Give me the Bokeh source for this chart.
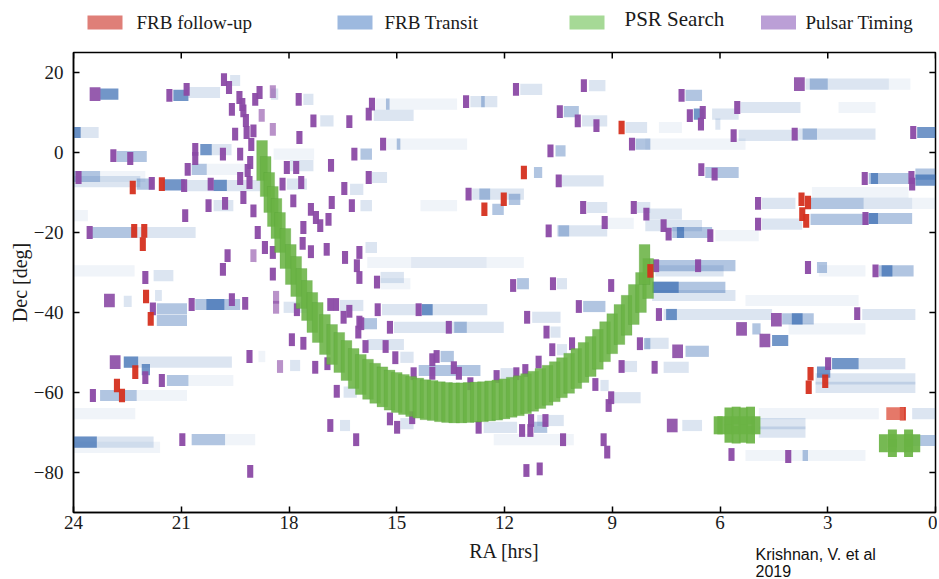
from bokeh.plotting import figure
from bokeh.models import Range1d, FixedTicker
from bokeh.layouts import column
from bokeh.embed import file_html
from bokeh.resources import INLINE
from bokeh.core.properties import value

# ---------------- data ----------------
legend_labels = ["FRB follow-up", "FRB Transit", "PSR Search", "Pulsar Timing"]
legend_colors = ["#df7f78", "#9db9df", "#a6d996", "#bb9fd6"]

x_ticks = [24, 21, 18, 15, 12, 9, 6, 3, 0]
y_ticks = [20, 0, -20, -40, -60, -80]
y_tick_labels = ["20", "0", "\u221220", "\u221240", "\u221260", "\u221280"]

x_title = "RA [hrs]"
y_title = "Dec [deg]"
credit_lines = ["Krishnan, V. et al", "2019"]

# PSR Search arc (RA hrs, Dec deg)
green_ra = [18.75, 18.65, 18.55, 18.45, 18.35, 18.25, 18.1, 17.95, 17.8, 17.65, 17.5, 17.35,
            17.2, 17.0, 16.8, 16.6, 16.4, 16.2, 16.0, 15.8, 15.6, 15.4, 15.2, 15.0, 14.8,
            14.6, 14.4, 14.2, 14.0, 13.8, 13.6, 13.4, 13.2, 13.0, 12.8, 12.6, 12.4, 12.2,
            12.0, 11.8, 11.6, 11.4, 11.2, 11.0, 10.8, 10.6, 10.4, 10.2, 10.0, 9.8, 9.6,
            9.4, 9.2, 9.0, 8.8, 8.6, 8.4, 8.2, 8.0, 8.1]
green_dec = [-2, -6, -10, -13.5, -16.5, -20, -24, -28, -31, -34, -37, -40,
             -42.5, -45.5, -48, -50, -52, -54, -55.5, -56.7, -57.7, -58.6, -59.4, -60, -60.5,
             -61, -61.4, -61.8, -62, -62.3, -62.5, -62.6, -62.6, -62.5, -62.4, -62.3, -62.1, -61.9,
             -61.6, -61.2, -60.8, -60.3, -59.7, -59, -58.2, -57.3, -56.3, -55.2, -54, -52.5, -51,
             -49.2, -47.3, -45.3, -43, -40.7, -38, -35, -31.5, -28]

# PSR Search small clusters
cluster_ra = [6.05, 5.95, 5.75, 5.75, 5.75, 5.55, 5.55, 5.55, 5.35, 5.35, 5.35, 5.15, 5.15, 5.15, 5.0,
              1.45, 1.2, 1.2, 1.2, 0.95, 0.75, 0.75, 0.75, 0.55]
cluster_dec = [-68.2, -68.2, -66.0, -68.2, -70.3, -65.8, -68.2, -70.5, -66.0, -68.2, -70.3, -65.8, -68.2, -70.5, -68.2,
               -72.7, -71.5, -72.7, -73.9, -72.7, -71.5, -72.7, -73.9, -72.7]

# Pulsar Timing
purple_ra = [21.33, 20.85, 19.81, 19.67, 19.59, 19.38, 19.27, 18.94, 18.82, 17.73, 17.32, 16.32,
             19.50, 19.18, 18.99, 17.71, 22.89, 22.42, 20.61, 20.61, 19.84, 19.36, 20.82, 23.86,
             21.82, 20.92, 20.18, 19.36, 19.08, 19.10, 18.18, 18.06, 17.80, 17.66, 16.83, 16.18,
             16.46, 20.24, 19.78, 19.27, 18.99, 17.88, 17.39, 20.89, 16.81, 16.25, 17.25, 17.13,
             16.90, 23.55, 18.87, 17.60, 18.67, 18.45, 17.62, 17.39, 16.95, 16.44, 16.04, 19.71,
             19.84, 22.00, 16.11, 16.04, 18.45, 19.2, 19.05, 19.3, 19.15,
             11.68, 9.79, 15.69, 15.78, 13.07, 10.46, 9.96, 9.44, 15.38, 10.72, 8.45, 15.78,
             10.49, 13.0, 9.81, 8.40, 8.05, 9.21, 10.77,
             7.07, 6.84, 6.48, 6.53, 5.52, 5.62, 3.92, 0.62, 6.52, 6.15, 1.97, 0.67, 0.65,
             4.94, 4.94, 1.95, 7.57, 7.43, 6.27, 6.61, 3.55, 1.67, 7.78,
             21.79, 20.71, 19.59, 19.22, 17.78, 16.85, 16.69, 16.32, 16.48, 16.04, 16.07, 17.92,
             17.6, 22.0, 21.54, 19.1, 17.27, 16.93, 23.46, 16.67, 16.85, 16.13, 20.97, 19.08,
             15.55, 11.76, 10.65, 9.03, 15.53, 14.39, 9.93, 15.99, 15.19, 13.55, 11.37, 10.83,
             15.87, 15.31, 15.04, 14.01, 13.89, 10.67, 10.12, 8.23, 14.53, 14.01, 13.41, 13.27,
             12.95, 12.22, 11.67, 11.42, 11.05, 9.47, 8.74, 15.19, 14.99, 14.57, 12.72, 11.51,
             11.26, 11.28, 10.86, 10.37, 9.24, 9.14, 9.1, 9.03, 11.39, 11.02,
             7.7, 2.18, 7.82, 2.99, 5.68, 4.1]
purple_dec = [14.3, 15.8, 18.2, 16.25, 10.8, 13.75, 10.4, 13.3, 15.0, 13.3, 7.9, 7.7,
              4.6, 5.0, 5.4, 3.75, -0.8, -1.5, 0.8, -1.5, -0.4, -0.4, -4.2, -6.25,
              -7.7, -8.3, -7.9, -6.5, -2.5, -7.5, -7.9, -3.75, -3.75, -7.5, -3.2, -0.4,
              -9.0, -13.3, -12.7, -11.25, -14.6, -12.1, -14.2, -15.8, -12.5, -13.3, -16.25, -18.3,
              -16.7, -20.0, -20.0, -18.75, -23.75, -25.0, -22.7, -24.8, -24.2, -26.25, -25.0, -25.8,
              -29.2, -31.25, -28.3, -31.25, -30.4, 8.0, 2.0, 12.0, -4.5,
              15.8, 16.7, 12.1, 9.6, 12.7, 10.2, 7.9, 6.7, 2.1, 0.4, 2.1, -6.25,
              -7.1, -10.4, -13.75, -13.75, -15.4, -17.5, -19.6,
              14.3, 9.2, 10.0, 7.1, 11.25, 4.2, 4.6, 5.0, -4.3, -5.4, -6.5, -6.25, -7.9,
              -12.7, -17.9, -16.5, -18.3, -20.4, -20.8, -28.3, -28.75, -29.6, -28.3,
              -39.1, -38.0, -36.8, -37.7, -39.3, -38.0, -38.0, -39.7, -41.2, -42.4, -44.9, -46.8,
              -47.7, -56.3, -57.0, -51.0, -53.7, -52.8, -60.75, -59.7, -68.25, -71.8, -71.8, -79.7,
              -32.4, -33.25, -32.8, -33.25, -39.3, -39.3, -38.5, -42.8, -43.7, -43.7, -41.2, -44.9,
              -48.5, -48.5, -51.3, -51.8, -51.0, -49.3, -47.8, -47.8, -55.3, -55.2, -53.8, -55.2,
              -57.8, -56.0, -55.3, -54.5, -52.4, -58.0, -53.5, -66.6, -68.7, -66.3, -68.7, -69.5,
              -67.0, -69.5, -67.0, -71.8, -71.8, -74.9, -63.25, -61.3, -79.5, -79.1,
              -40.5, -40.3, -53.7, -52.8, -75.5, -76.0]
purple_light_ra = [18.76, 18.45, 18.45, 18.99, 18.36, 18.36, 18.25]
purple_light_dec = [9.3, 15.2, 5.8, -25.8, -36.2, -38.7, -53.5]
purple_big_ra = [23.40, 23.0, 22.84, 5.4, 4.43, 4.75, 7.18, 7.33, 3.79]
purple_big_dec = [14.6, -37.0, -52.4, -44.1, -41.8, -47.0, -49.7, -68.25, 17.1]

# FRB follow-up
red_ra = [22.35, 21.54, 22.31, 22.03, 22.07, 8.74, 11.46, 12.02, 12.56, 3.73, 3.55, 3.71, 3.6,
          7.94, 21.98, 21.85, 22.28, 22.79, 22.65, 3.48, 3.53, 3.07, 0.91]
red_dec = [-8.75, -7.9, -19.6, -19.6, -22.9, 6.25, -5.0, -11.7, -14.2, -11.7, -12.5, -15.4, -17.1,
           -29.6, -36.0, -41.6, -54.9, -58.25, -60.75, -55.3, -58.7, -57.2, -65.3]
red_wide_ra = [1.12]
red_wide_dec = [-65.3]

# FRB Transit strips: start RA, end RA, Dec, shade level (0 faint .. 3 dark)
blue_start = [23.26, 21.22, 20.8, 19.64, 18.5, 24.0, 24.0, 20.47, 20.15, 22.8, 20.71, 20.29, 24.0, 23.26,
              22.24, 21.5, 20.1, 24.0, 20.85, 23.49, 22.24, 20.1, 24.0, 24.0, 21.77, 17.97, 18.06, 17.13,
              17.6, 16.3, 18.43,
              15.59, 15.3, 15.64, 12.95, 12.65, 11.56, 9.65, 10.35, 9.84, 8.63, 15.27, 15.0, 8.35, 16.01,
              10.58, 11.18, 15.69, 10.4, 12.9, 12.7, 11.88, 12.34, 14.34, 16.01, 9.7, 8.31, 9.14, 10.54,
              10.5, 15.87, 15.82, 14.6, 15.45,
              3.62, 3.5, 1.3, 6.96, 5.43, 2.7, 6.73, 6.22, 6.13, 7.7, 5.48, 3.81, 3.7, 0.51, 8.08, 6.41,
              1.86, 1.8, 0.56, 0.56, 3.44, 4.83, 3.48, 2.0, 0.65, 1.86, 1.86, 3.48, 4.83, 8.08, 7.33,
              7.2, 6.13, 7.7, 7.8, 3.3, 1.58, 1.5, 3.25, 8.08,
              22.6, 21.73, 21.68, 21.68, 20.61, 20.3, 22.6, 22.6, 22.1, 21.4, 20.8, 23.26, 22.24, 24.0,
              24.0, 24.0, 24.0, 20.71, 19.78, 18.15, 16.58, 17.97, 16.48, 16.58, 18.85,
              15.45, 11.65, 10.54, 15.41, 14.3, 15.08, 13.4, 15.92, 9.81, 11.23, 10.72, 15.82, 14.9,
              13.78, 10.54, 8.12, 14.39, 12.11, 8.68, 8.96, 14.9, 11.09, 12.58, 12.3, 11.18, 9.33,
              7.89, 7.89, 7.89, 5.29, 7.57, 7.5, 4.27, 4.0, 2.04, 5.1, 4.09, 4.55, 8.08, 6.96, 7.57,
              2.88, 2.14, 3.3, 3.34, 3.34, 4.92, 4.92, 4.92, 0.65, 0.65, 5.29, 3.7, 7.05]
blue_end = [22.75, 20.80, 19.92, 19.36, 18.3, 23.3, 23.8, 20.15, 19.6, 21.96, 20.29, 19.2, 23.26, 22.0,
            21.77, 20.9, 19.73, 22.14, 18.8, 22.24, 20.6, 19.55, 23.6, 22.3, 21.22, 17.32, 17.5, 16.76,
            17.32, 15.93, 17.3,
            13.32, 15.2, 14.53, 12.2, 12.55, 10.95, 9.19, 9.93, 9.14, 8.03, 13.04, 14.9, 7.94, 15.69,
            10.3, 10.95, 15.27, 9.24, 11.46, 12.4, 11.56, 12.02, 13.32, 15.69, 9.14, 7.94, 8.4, 9.14,
            10.2, 15.55, 11.46, 12.5, 14.8,
            1.3, 3.0, 0.7, 6.5, 3.76, 1.67, 6.45, 5.48, 5.99, 7.06, 3.81, 1.67, 3.3, 0.0, 5.29, 5.48,
            0.74, 1.6, 0.0, 0.0, 0.75, 3.9, 2.0, 0.65, 0.0, 0.65, 1.6, 1.86, 3.71, 7.06, 6.22,
            7.0, 4.92, 5.57, 5.9, 3.02, 0.61, 1.2, 1.95, 6.5,
            22.38, 21.54, 20.84, 20.84, 19.36, 19.8, 19.59, 22.2, 21.87, 20.8, 19.55, 22.24, 20.84, 22.28,
            23.35, 21.77, 21.59, 19.78, 18.94, 17.5, 15.93, 17.69, 16.11, 16.3, 18.66,
            14.62, 11.32, 10.26, 12.48, 14.0, 12.02, 13.05, 15.55, 9.19, 10.44, 10.44, 14.8, 14.53,
            13.41, 10.26, 7.94, 12.67, 11.65, 8.31, 8.21, 14.53, 10.35, 11.65, 10.07, 10.81, 9.1,
            5.85, 7.15, 5.57, 2.14, 4.55, 7.2, 3.39, 3.7, 0.56, 4.87, 1.95, 4.1, 7.43, 6.31, 6.87,
            2.14, 0.84, 2.93, 0.56, 0.56, 1.58, 3.62, 3.62, 0.0, 0.0, 1.95, 3.55, 6.5]
blue_dec = [14.6, 14.3, 15.0, 18.0, 14.6, 5.0, 5.0, 0.7, 0.7, -1.0, -4.2, -4.2, -6.0, -6.0,
            -7.9, -8.1, -8.2, -7.3, -8.3, -20.0, -20.0, -13.3, -15.8, -29.6, -30.8, -3.3, -7.9, 7.9,
            13.3, -9.2, -0.4,
            12.1, 12.1, 9.3, 12.7, 12.7, 15.8, 16.7, 10.2, 7.9, 6.25, 2.1, 2.1, 2.1, -0.4,
            0.4, -5.0, -6.25, -7.1, -10.4, -10.4, -11.7, -14.2, -13.3, -13.3, -13.75, -13.75, -17.7, -19.6,
            -19.6, -23.75, -27.5, -27.5, -31.25,
            17.1, 17.1, 17.1, 14.3, 11.25, 11.25, 9.6, 9.6, 7.1, 6.25, 4.3, 4.6, 4.6, 5.0, 2.1, -5.0,
            -6.5, -6.5, -5.4, -6.9, -10.0, -12.7, -12.7, -12.7, -12.7, -16.5, -16.5, -16.7, -17.9, -15.4, -20.0,
            -20.0, -20.8, -28.3, -29.6, -28.75, -29.6, -29.6, -29.6, -18.3,
            -37.2, -35.75, -39.1, -42.0, -38.0, -38.0, -52.4, -52.4, -54.3, -57.0, -57.0, -60.75, -60.75, -65.3,
            -72.4, -72.4, -73.7, -71.8, -71.8, -38.7, -38.25, -53.25, -59.9, -68.25, -51.0,
            -32.8, -32.8, -32.8, -39.3, -39.3, -43.7, -43.7, -42.8, -38.5, -41.2, -44.9, -48.0, -51.2,
            -51.0, -49.3, -47.8, -54.5, -55.3, -53.5, -61.3, -67.8, -67.0, -68.7, -71.8, -68.7, -58.25,
            -33.7, -33.7, -35.75, -37.0, -40.5, -40.5, -41.6, -41.6, -40.5, -44.1, -44.1, -47.0, -47.7, -49.7, -53.7,
            -52.8, -52.8, -54.9, -56.6, -58.7, -65.3, -67.8, -69.9, -65.3, -72.0, -75.75, -75.75, -68.25]
blue_level = [3, 3, 1, 1, 1, 1, 3, 3, 1, 2, 2, 0, 2, 0,
              2, 3, 3, 1, 1, 2, 1, 1, 0, 0, 1, 1, 1, 1,
              1, 1, 0,
              0, 2, 1, 1, 2, 1, 1, 2, 1, 1, 0, 2, 2, 2,
              2, 2, 1, 1, 1, 2, 2, 2, 0, 1, 1, 1, 0, 1,
              2, 1, 0, 0, 1,
              1, 2, 0, 2, 1, 0, 3, 1, 1, 0, 1, 1, 2, 3, 0, 2,
              2, 3, 2, 3, 0, 1, 2, 1, 0, 2, 3, 2, 1, 1, 2,
              3, 0, 2, 1, 2, 2, 3, 0, 1,
              1, 1, 2, 2, 2, 3, 1, 3, 3, 2, 0, 2, 0, 0,
              3, 1, 0, 2, 0, 1, 1, 1, 1, 1, 0,
              0, 2, 1, 1, 3, 1, 2, 2, 2, 1, 1, 1, 1,
              2, 1, 2, 2, 1, 1, 1, 1, 1, 1, 0, 2, 1,
              2, 3, 1, 0, 1, 3, 2, 3, 1, 2, 0, 3, 1, 2, 1,
              3, 1, 3, 1, 1, 0, 1, 1, 1, 2, 0, 2, 1]

shade_alpha = [0.08, 0.18, 0.4, 0.72]

# ---------------- styles ----------------
SERIF = "Liberation Serif"
SANS = "Liberation Sans"
PURPLE = "#8b4aa5"
RED = "#d5301f"
BLUE = "#3b6db3"
GREEN = "#6ab344"
TXT = "#1a1a1a"

W = 937            # page width used
BL, BR = 73, 2     # left / right borders (frames of all panels line up)
X0, X1 = BL, W - BR


def blank_panel(height, ytop, ybot):
    f = figure(width=W, height=height, x_range=Range1d(X0, X1), y_range=Range1d(ybot, ytop),
               x_axis_type=None, y_axis_type=None, output_backend="svg", toolbar_location=None,
               min_border_left=BL, min_border_right=BR, min_border_top=0, min_border_bottom=0,
               outline_line_color=None)
    f.grid.visible = False
    return f


# ---------------- legend strip (page pixels) ----------------
leg = blank_panel(44, 0, 44)
leg_patch_x = [104.5, 354.5, 586.5, 778]
leg_text_x = [136, 384, 624, 805]
leg_text_y = [22, 22, 18, 22]
leg_text_size = ["19px", "19px", "21px", "19px"]
leg.rect(x=leg_patch_x, y=[22] * 4, width=35, height=14, fill_color=legend_colors, line_color=None)
for i, lab in enumerate(legend_labels):
    leg.text(x=[leg_text_x[i]], y=[leg_text_y[i]], text=[lab], text_font=value(SERIF),
             text_font_size=leg_text_size[i], text_baseline="middle", text_align="left",
             text_color=TXT)

# ---------------- main plot ----------------
p = figure(width=W, height=494, x_range=Range1d(24, 0), y_range=Range1d(-90, 25),
           output_backend="svg", toolbar_location=None,
           min_border_left=BL, min_border_right=BR, min_border_top=8, min_border_bottom=26)
p.grid.visible = False
p.outline_line_color = "black"
p.outline_line_width = 1.5
p.background_fill_color = "white"
p.border_fill_color = "white"

# blue strips
half = 1.4
b_alpha = [shade_alpha[l] for l in blue_level]
p.quad(left=blue_start, right=blue_end,
       top=[d + half for d in blue_dec], bottom=[d - half for d in blue_dec],
       fill_color=BLUE, fill_alpha=b_alpha, line_color=None)

# pulsar timing
p.rect(x=purple_ra, y=purple_dec, width=0.17, height=3.2, fill_color=PURPLE, fill_alpha=0.95, line_color=None)
p.rect(x=purple_light_ra, y=purple_light_dec, width=0.17, height=3.2, fill_color=PURPLE, fill_alpha=0.6, line_color=None)
p.rect(x=purple_big_ra, y=purple_big_dec, width=0.3, height=3.4, fill_color=PURPLE, fill_alpha=0.9, line_color=None)

# PSR search
p.rect(x=green_ra, y=green_dec, width=0.3, height=10, fill_color=GREEN, fill_alpha=0.88,
       line_color="#4f9a32", line_alpha=0.35, line_width=0.6)
p.rect(x=cluster_ra, y=cluster_dec, width=0.25, height=4.5, fill_color=GREEN, fill_alpha=0.92,
       line_color=None)

# FRB follow-up
p.rect(x=red_ra, y=red_dec, width=0.17, height=3.4, fill_color=RED, fill_alpha=0.95, line_color=None)
p.rect(x=red_wide_ra, y=red_wide_dec, width=0.5, height=3.2, fill_color="#e0604f", fill_alpha=0.85, line_color=None)

# inward ticks on top and right edges (at the same tick values)
yr, xr = p.y_range, p.x_range
p.segment(x0=x_ticks, y0=[yr.end] * len(x_ticks), x1=x_ticks, y1=[yr.end - 1.5] * len(x_ticks),
          line_color="black", line_width=1.5)
p.segment(x0=[xr.end] * len(y_ticks), y0=y_ticks, x1=[xr.end + 0.17] * len(y_ticks), y1=y_ticks,
          line_color="black", line_width=1.5)


def style_axis(ax):
    ax.axis_line_color = "black"
    ax.axis_line_width = 1.5
    ax.major_tick_line_color = "black"
    ax.major_tick_line_width = 1.5
    ax.major_tick_in = 6
    ax.major_tick_out = 0
    ax.minor_tick_line_color = None
    ax.major_label_text_font = SERIF
    ax.major_label_text_font_size = "19px"
    ax.major_label_text_color = TXT
    ax.axis_label_text_font = SERIF
    ax.axis_label_text_font_size = "20px"
    ax.axis_label_text_font_style = "normal"
    ax.axis_label_text_color = TXT


xa = p.xaxis[0]
xa.ticker = FixedTicker(ticks=x_ticks)
style_axis(xa)
xa.major_label_standoff = 3

ya = p.yaxis[0]
ya.ticker = FixedTicker(ticks=y_ticks)
ya.major_label_overrides = {t: s for t, s in zip(y_ticks, y_tick_labels)}
ya.axis_label = y_title
style_axis(ya)
ya.major_label_standoff = 10
ya.axis_label_standoff = 0

# ---------------- bottom strip: x title + credit (page pixels) ----------------
bot = blank_panel(41, 538, 579)
bot.text(x=[504], y=[550], text=[x_title], text_font=value(SERIF), text_font_size="20px",
         text_baseline="middle", text_align="center", text_color=TXT)
bot.text(x=[755, 755], y=[554, 570], text=credit_lines, text_font=value(SANS),
         text_font_size="16px", text_baseline="middle", text_align="left", text_color="#111111")

layout = column(leg, p, bot)
open("out.html", "w").write(file_html(layout, INLINE))
